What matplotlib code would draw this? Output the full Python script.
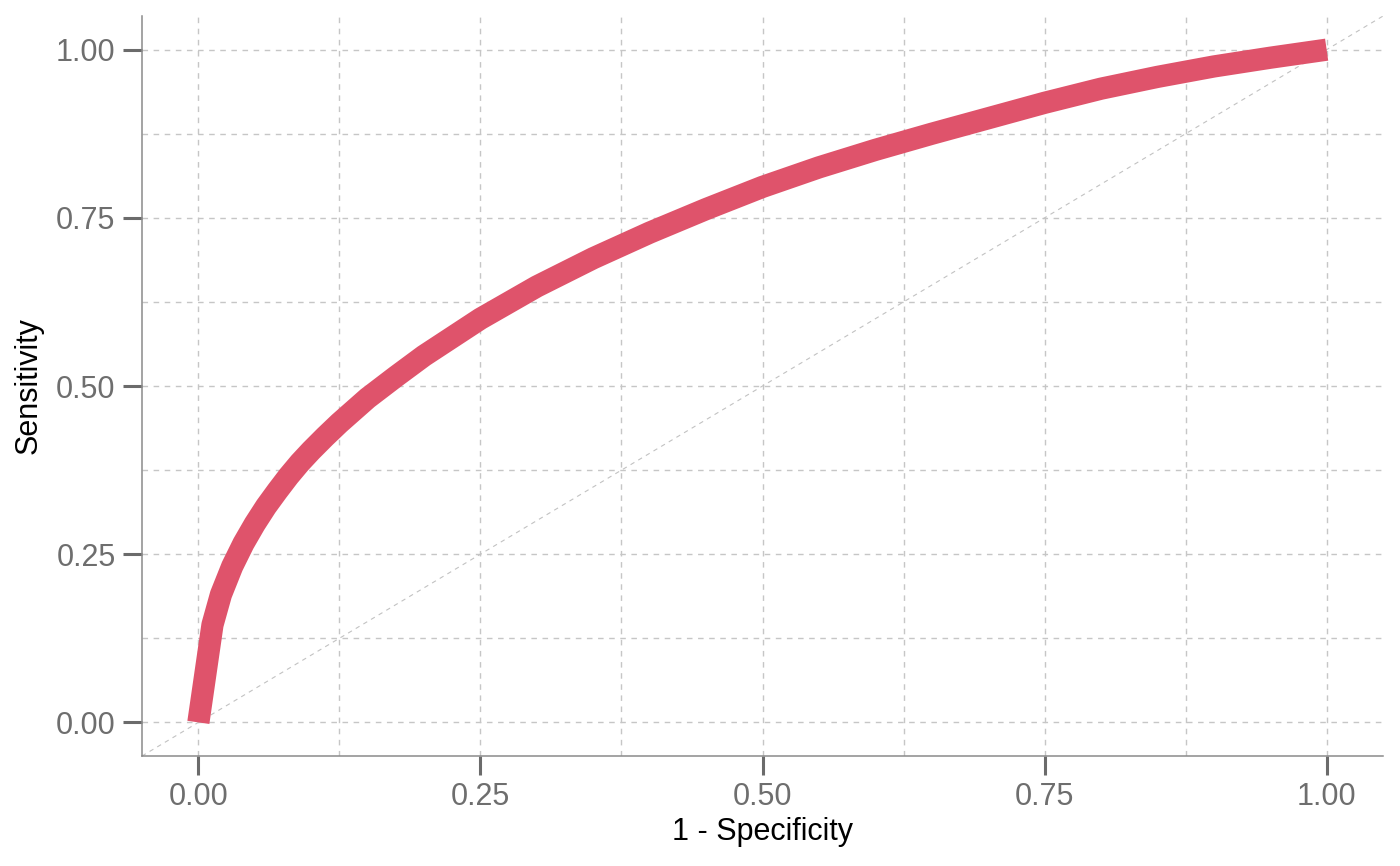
import numpy as np
import matplotlib
matplotlib.use("Agg")
import matplotlib.pyplot as plt
from matplotlib.ticker import FixedLocator

# ROC curve points
fpr = [0.000, 0.0125, 0.020, 0.030, 0.040, 0.050, 0.060, 0.070, 0.080, 0.090,
       0.100, 0.1125, 0.125, 0.150, 0.175, 0.200, 0.250, 0.300, 0.350, 0.400,
       0.450, 0.500, 0.550, 0.600, 0.650, 0.700, 0.750, 0.800, 0.850, 0.900,
       0.950, 1.000]
tpr = [0.000, 0.145, 0.190, 0.232, 0.266, 0.295, 0.321, 0.344, 0.366, 0.386,
       0.404, 0.425, 0.445, 0.482, 0.514, 0.545, 0.600, 0.648, 0.690, 0.728,
       0.763, 0.796, 0.825, 0.851, 0.875, 0.898, 0.921, 0.942, 0.9595, 0.975,
       0.988, 1.000]

major_ticks = [0.00, 0.25, 0.50, 0.75, 1.00]
tick_labels = ["0.00", "0.25", "0.50", "0.75", "1.00"]
minor_ticks = [0.125, 0.375, 0.625, 0.875]

plt.rcParams['font.family'] = ['Liberation Sans', 'DejaVu Sans']

fig = plt.figure(figsize=(14, 8.66), dpi=100)
ax = fig.add_axes([0.1014, 0.127, 0.8865, 0.8545])

lims = (-0.05, 1.05)
ax.set_xlim(*lims)
ax.set_ylim(*lims)

# grid, major and minor, dashed
grid_kw = dict(color='#c6c6c6', linewidth=1.0, linestyle=(0, (4, 4)), zorder=0)
for v in major_ticks + minor_ticks:
    ax.axvline(v, **grid_kw)
    ax.axhline(v, **grid_kw)

# reference diagonal
ax.plot(lims, lims, color='#c2c2c2', linewidth=0.8, linestyle=(0, (4, 4)), zorder=1)

# ROC curve
ax.plot(fpr, tpr, color='#DF536B', linewidth=16, solid_capstyle='butt',
        solid_joinstyle='round', zorder=3)

for s in ['top', 'right']:
    ax.spines[s].set_visible(False)
for s in ['left', 'bottom']:
    ax.spines[s].set_color('#8a8a8a')
    ax.spines[s].set_linewidth(1.1)

ax.xaxis.set_major_locator(FixedLocator(major_ticks))
ax.yaxis.set_major_locator(FixedLocator(major_ticks))
ax.set_xticklabels(tick_labels)
ax.set_yticklabels(tick_labels)
ax.tick_params(axis='both', which='major', length=14, width=2.2, color='#6b6b6b',
               labelcolor='#6e6e6e', labelsize=22, pad=5)
ax.tick_params(axis='both', which='minor', length=0)

ax.set_xlabel('1 - Specificity', fontsize=22, color='black', labelpad=3)
ax.set_ylabel('Sensitivity', fontsize=22, color='black', labelpad=9)

fig.savefig('out.png', dpi=100, facecolor='white')
